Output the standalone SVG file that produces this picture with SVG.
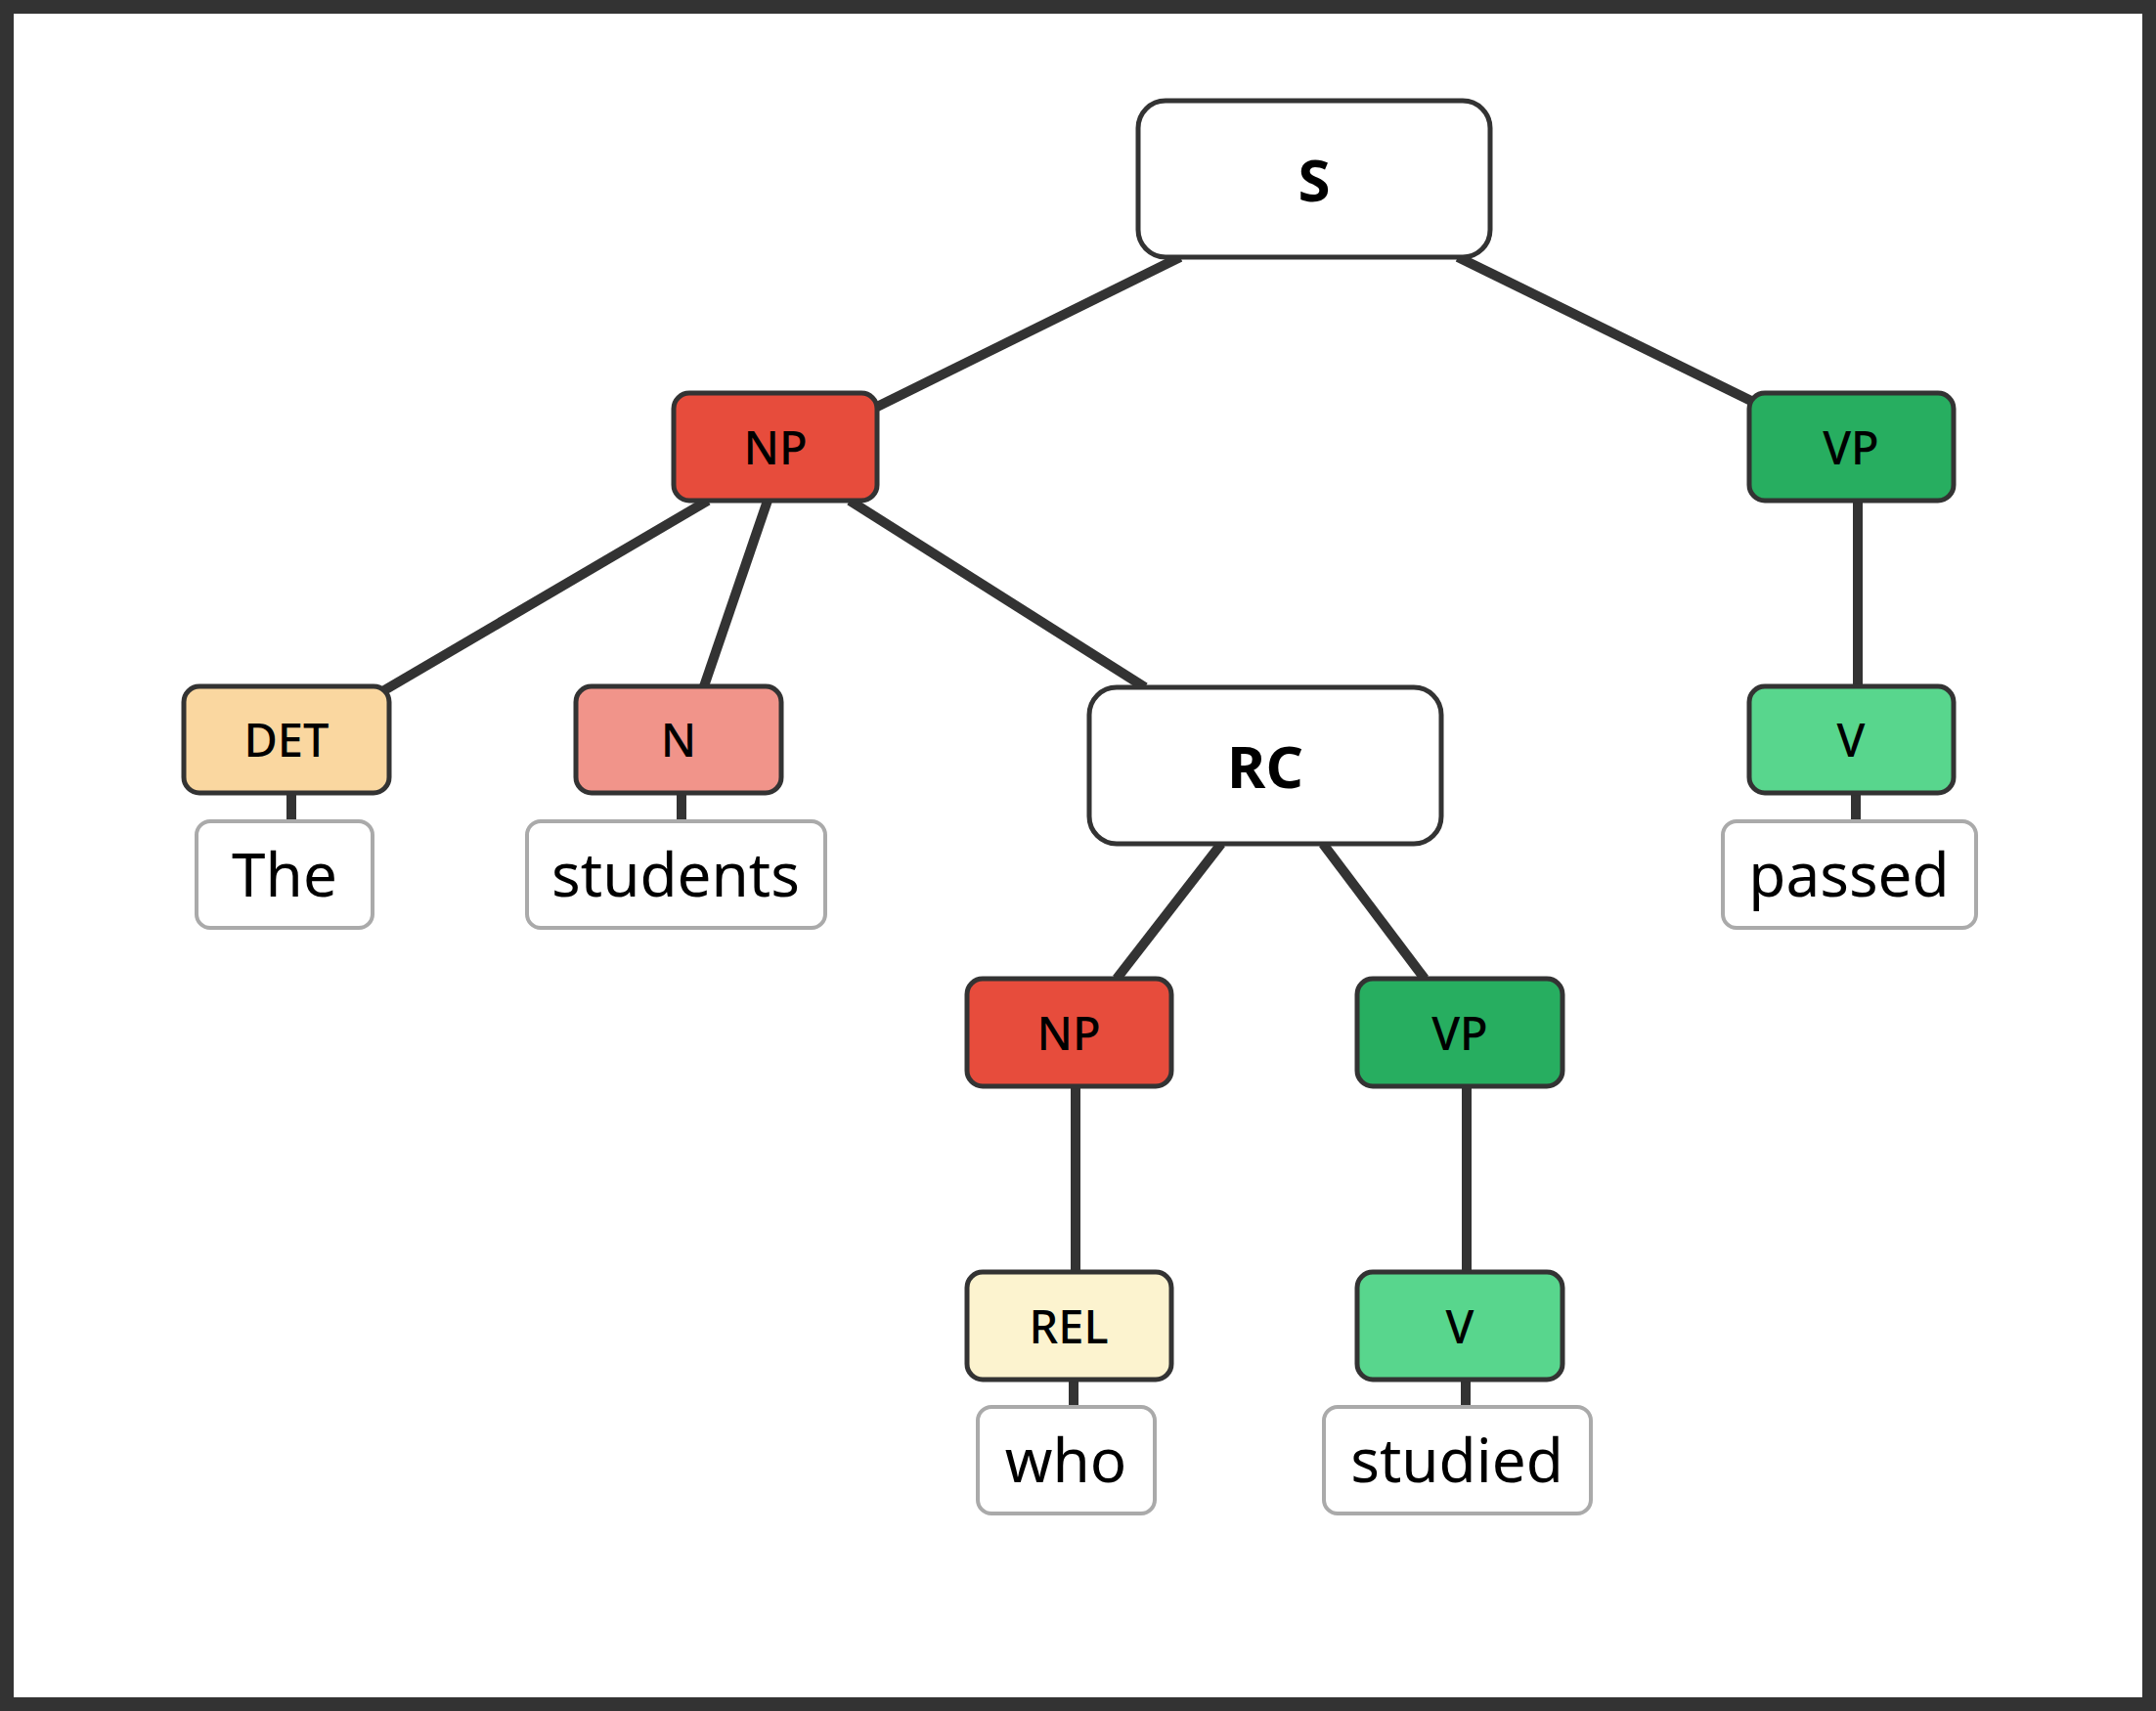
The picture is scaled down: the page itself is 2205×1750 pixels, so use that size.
<svg xmlns="http://www.w3.org/2000/svg" width="2205" height="1750" viewBox="0 0 2205 1750">
<style>
.n{stroke:#333;stroke-width:5}
.leaf{fill:#fff;stroke:#aaa;stroke-width:4}
.t{font-family:"Noto Sans","Open Sans",sans-serif;text-anchor:middle;dominant-baseline:central;fill:#000}
.lab{font-size:47px;font-weight:500}
.big{font-size:60px;font-weight:700}
.w{font-size:62px}
.e line{stroke:#333;stroke-width:10}
</style>
<rect x="0" y="0" width="2205" height="1750" fill="#fff"/>
<rect x="7" y="7" width="2191" height="1736" fill="none" stroke="#333" stroke-width="14"/>
<g class="e" id="connectors">
<line x1="1207" y1="263" x2="897" y2="416"/>
<line x1="1491" y1="263" x2="1795" y2="412"/>
<line x1="724" y1="512" x2="388" y2="709"/>
<line x1="785" y1="512" x2="720" y2="702"/>
<line x1="869" y1="512" x2="1171" y2="703"/>
<line x1="1900" y1="512" x2="1900" y2="702"/>
<line x1="1249" y1="863" x2="1142" y2="1001"/>
<line x1="1353" y1="863" x2="1457" y2="1001"/>
<line x1="1100" y1="1111" x2="1100" y2="1301"/>
<line x1="1500" y1="1111" x2="1500" y2="1301"/>
<line x1="298" y1="811" x2="298" y2="840"/>
<line x1="697" y1="811" x2="697" y2="840"/>
<line x1="1898" y1="811" x2="1898" y2="840"/>
<line x1="1098" y1="1411" x2="1098" y2="1439"/>
<line x1="1499" y1="1411" x2="1499" y2="1439"/>
</g>
<g id="S"><rect class="n" x="1164" y="103" width="360" height="160" rx="28" fill="#fff"/><text class="t big" x="1344" y="183">S</text></g>
<g id="NP"><rect class="n" x="689" y="402" width="208" height="110" rx="16" fill="#e74c3c"/><text class="t lab" x="793" y="457">NP</text></g>
<g id="VP"><rect class="n" x="1789" y="402" width="209" height="110" rx="16" fill="#27ae60"/><text class="t lab" x="1893" y="457">VP</text></g>
<g id="DET"><rect class="n" x="188" y="702" width="210" height="109" rx="16" fill="#fad7a0"/><text class="t lab" x="293" y="756">DET</text></g>
<g id="N"><rect class="n" x="589" y="702" width="210" height="109" rx="16" fill="#f1948a"/><text class="t lab" x="694" y="756">N</text></g>
<g id="RC"><rect class="n" x="1114" y="703" width="360" height="160" rx="28" fill="#fff"/><text class="t big" x="1294" y="783">RC</text></g>
<g id="V"><rect class="n" x="1789" y="702" width="209" height="109" rx="16" fill="#58d68d"/><text class="t lab" x="1893" y="756">V</text></g>
<g id="NP2"><rect class="n" x="989" y="1001" width="209" height="110" rx="16" fill="#e74c3c"/><text class="t lab" x="1093" y="1056">NP</text></g>
<g id="VP2"><rect class="n" x="1388" y="1001" width="210" height="110" rx="16" fill="#27ae60"/><text class="t lab" x="1493" y="1056">VP</text></g>
<g id="REL"><rect class="n" x="989" y="1301" width="209" height="110" rx="16" fill="#fcf3cf"/><text class="t lab" x="1093" y="1356">REL</text></g>
<g id="V2"><rect class="n" x="1388" y="1301" width="210" height="110" rx="16" fill="#58d68d"/><text class="t lab" x="1493" y="1356">V</text></g>
<g id="w-the"><rect class="leaf" x="201" y="840" width="180" height="109" rx="14"/><text class="t w" x="291" y="893">The</text></g>
<g id="w-students"><rect class="leaf" x="539" y="840" width="305" height="109" rx="14"/><text class="t w" x="691" y="893">students</text></g>
<g id="w-passed"><rect class="leaf" x="1762" y="840" width="259" height="109" rx="14"/><text class="t w" x="1891" y="893">passed</text></g>
<g id="w-who"><rect class="leaf" x="1000" y="1439" width="181" height="109" rx="14"/><text class="t w" x="1090" y="1492">who</text></g>
<g id="w-studied"><rect class="leaf" x="1354" y="1439" width="273" height="109" rx="14"/><text class="t w" x="1490" y="1492">studied</text></g>
</svg>
